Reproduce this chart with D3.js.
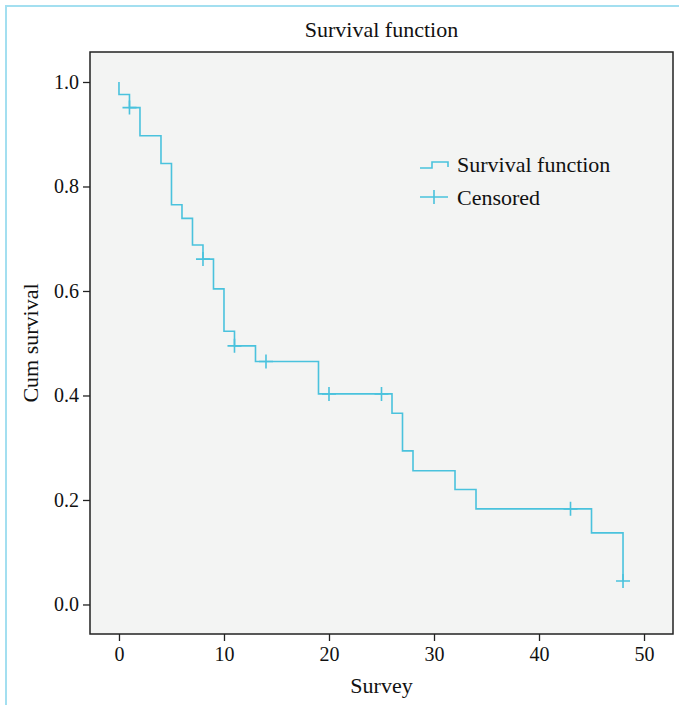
<!DOCTYPE html>
<html>
<head>
<meta charset="utf-8">
<script src="https://cdn.jsdelivr.net/npm/d3@7"></script>
<style>
  body { margin: 0; background: #fff; }
  text { font-family: "Liberation Serif", "DejaVu Serif", serif; fill: #111; }
</style>
</head>
<body>
<div id="anchor-point"></div>
<script>
// survival curve

// step times (events) and survival value just after each step
const event_times = [0, 1, 2, 4, 5, 6, 7, 8, 9, 10, 11, 13, 19, 26, 27, 28, 32, 34, 45, 48];
const survival = [0.976, 0.951, 0.897, 0.844, 0.765, 0.739, 0.688, 0.661, 0.604, 0.523,
                  0.495, 0.465, 0.403, 0.366, 0.294, 0.256, 0.220, 0.183, 0.137, 0.045];

// censored marks
const censor_times = [1, 8, 11, 14, 20, 25, 43, 48];
const censor_values = [0.951, 0.661, 0.495, 0.465, 0.403, 0.403, 0.183, 0.045];

const x_ticks = [0, 10, 20, 30, 40, 50];
const y_ticks = [0, 0.2, 0.4, 0.6, 0.8, 1.0];
const legend_labels = ["Survival function", "Censored"];

const width = 679, height = 705;
const box = { left: 90, top: 52, right: 673, bottom: 634 };
const line_color = "#4ac2dd";
const font = "Liberation Serif, DejaVu Serif, serif";

const svg = d3.select("#anchor-point")
  .append("svg")
  .attr("width", width)
  .attr("height", height);

// light blue frame (only top and left visible)
svg.append("path")
  .attr("d", `M6,${height} V6 H${width}`)
  .attr("fill", "none")
  .attr("stroke", "#a3dff0")
  .attr("stroke-width", 2);

const x = d3.scaleLinear().domain([-2.76, 52.76]).range([box.left, box.right]);
const y = d3.scaleLinear().domain([-0.0565, 1.0574]).range([box.bottom, box.top]);

// plot background
svg.append("rect")
  .attr("x", box.left)
  .attr("y", box.top)
  .attr("width", box.right - box.left)
  .attr("height", box.bottom - box.top)
  .attr("fill", "#f3f4f3")
  .attr("stroke", "#222")
  .attr("stroke-width", 1.5);

// axes
const xAxis = svg.append("g")
  .attr("transform", `translate(0,${box.bottom})`)
  .call(d3.axisBottom(x).tickValues(x_ticks).tickSize(7).tickPadding(6).tickFormat(d3.format("d")));
const yAxis = svg.append("g")
  .attr("transform", `translate(${box.left},0)`)
  .call(d3.axisLeft(y).tickValues(y_ticks).tickSize(7).tickPadding(4).tickFormat(d3.format(".1f")));

[xAxis, yAxis].forEach(g => {
  g.select(".domain").remove();
  g.selectAll(".tick line").attr("stroke", "#222").attr("stroke-width", 1.3);
  g.selectAll(".tick text")
    .attr("font-size", 20)
    .attr("font-family", font)
    .attr("fill", "#111");
});

// step line
let pts = [[0, 1.0]];
let prev = 1.0;
event_times.forEach((t, i) => {
  pts.push([t, prev]);
  pts.push([t, survival[i]]);
  prev = survival[i];
});

svg.append("path")
  .datum(pts)
  .attr("fill", "none")
  .attr("stroke", line_color)
  .attr("stroke-width", 1.6)
  .attr("d", d3.line().x(d => x(d[0])).y(d => y(d[1])));

// censored crosses
const cs = svg.selectAll(".censor")
  .data(censor_times)
  .enter()
  .append("g")
  .attr("class", "censor")
  .attr("transform", (d, i) => `translate(${x(d)},${y(censor_values[i])})`);

cs.append("path")
  .attr("d", "M-7,0 H7 M0,-7 V7")
  .attr("stroke", line_color)
  .attr("stroke-width", 1.6)
  .attr("fill", "none");

// legend
const lg = svg.append("g");
lg.append("path")
  .attr("d", "M420,168 H432 V162 H448 V167")
  .attr("fill", "none")
  .attr("stroke", line_color)
  .attr("stroke-width", 1.6);
lg.append("path")
  .attr("d", "M420,197 H448 M434,190 V204")
  .attr("fill", "none")
  .attr("stroke", line_color)
  .attr("stroke-width", 1.6);
lg.selectAll("text")
  .data(legend_labels)
  .enter()
  .append("text")
  .attr("x", 457)
  .attr("y", (d, i) => 164 + i * 33)
  .attr("dy", "0.35em")
  .attr("font-size", 22)
  .text(d => d);

// titles
svg.append("text")
  .attr("x", (box.left + box.right) / 2)
  .attr("y", 37)
  .attr("text-anchor", "middle")
  .attr("font-size", 22)
  .text("Survival function");

svg.append("text")
  .attr("x", (box.left + box.right) / 2)
  .attr("y", 693)
  .attr("text-anchor", "middle")
  .attr("font-size", 22)
  .text("Survey");

svg.append("text")
  .attr("transform", `translate(38,${(box.top + box.bottom) / 2}) rotate(-90)`)
  .attr("text-anchor", "middle")
  .attr("font-size", 22)
  .text("Cum survival");
</script>
</body>
</html>
